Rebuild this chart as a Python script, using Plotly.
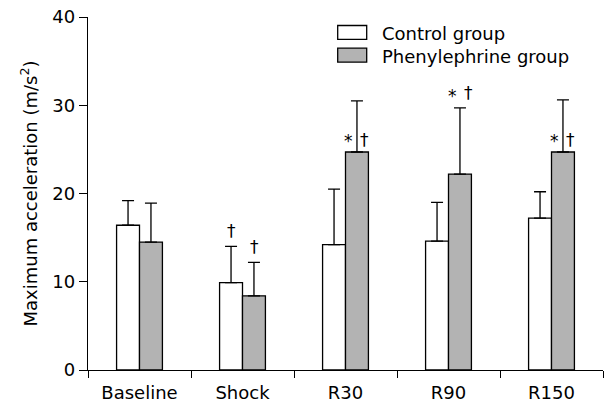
import plotly.graph_objects as go

categories = ["Baseline", "Shock", "R30", "R90", "R150"]
control_mean = [16.4, 9.9, 14.2, 14.6, 17.2]
control_sd = [2.8, 4.1, 6.3, 4.4, 3.0]
phenyl_mean = [14.5, 8.4, 24.7, 22.2, 24.7]
phenyl_sd = [4.4, 3.8, 5.8, 7.5, 5.9]
y_ticks = [0, 10, 20, 30, 40]

# significance marks: (category index, group, text, placement)
marks = [
    (1, "c", "†", "cap"),
    (1, "p", "†", "cap"),
    (2, "p", "*|†", "bar"),
    (3, "p", "* †", "cap"),
    (4, "p", "*|†", "bar"),
]

FONT = "DejaVu Sans, Liberation Sans, Arial, sans-serif"
FS = 18
fig = go.Figure()
fig.add_trace(go.Bar(
    x=categories, y=control_mean, name="Control group",
    marker=dict(color="white", line=dict(color="black", width=1.3)),
    error_y=dict(type="data", symmetric=False, array=control_sd,
                 arrayminus=[0] * 5, color="black", thickness=1.3, width=6),
))
fig.add_trace(go.Bar(
    x=categories, y=phenyl_mean, name="Phenylephrine group",
    marker=dict(color="#b3b3b3", line=dict(color="black", width=1.3)),
    error_y=dict(type="data", symmetric=False, array=phenyl_sd,
                 arrayminus=[0] * 5, color="black", thickness=1.3, width=6),
))

mfont = dict(size=17, family=FONT, color="black")
half = 11.5
for idx, grp, text, place in marks:
    mean = control_mean if grp == "c" else phenyl_mean
    sd = control_sd if grp == "c" else phenyl_sd
    xs = -half if grp == "c" else half
    if place == "cap":
        yv = mean[idx] + sd[idx]
        if text == "* †":
            fig.add_annotation(x=categories[idx], y=yv, text="*", showarrow=False,
                               xshift=xs - 8, yshift=12, font=mfont)
            fig.add_annotation(x=categories[idx], y=yv, text="†", showarrow=False,
                               xshift=xs + 8, yshift=15, font=mfont)
        else:
            fig.add_annotation(x=categories[idx], y=yv, text=text, showarrow=False,
                               xshift=xs, yshift=15, font=mfont)
    else:
        yv = mean[idx]
        fig.add_annotation(x=categories[idx], y=yv, text="*", showarrow=False,
                           xshift=xs - 8.5, yshift=11, font=mfont)
        fig.add_annotation(x=categories[idx], y=yv, text="†", showarrow=False,
                           xshift=xs + 7, yshift=12, font=mfont)

# legend swatches
legend_items = [("Control group", "white"), ("Phenylephrine group", "#b3b3b3")]
for i, (label, col) in enumerate(legend_items):
    y0 = 1 - (25 + i * 22.7 - 16.5) / 353.5
    y1 = 1 - (39 + i * 22.7 - 16.5) / 353.5
    fig.add_shape(type="rect", xref="paper", yref="paper",
                  x0=(337.7 - 88) / 515, x1=(366.7 - 88) / 515, y0=y1, y1=y0,
                  fillcolor=col, line=dict(color="black", width=1.3))
    fig.add_annotation(xref="paper", yref="paper", x=(380 - 88) / 515,
                       y=(y0 + y1) / 2, text=label, showarrow=False,
                       xanchor="left", yanchor="middle", yshift=-1,
                       font=dict(size=FS, family=FONT, color="black"))

fig.update_layout(
    width=604, height=405,
    margin=dict(l=88, r=1, t=16.5, b=35),
    paper_bgcolor="white", plot_bgcolor="white",
    barmode="group", bargap=0.555, bargroupgap=0,
    showlegend=False,
    font=dict(family=FONT, size=FS, color="black"),
)
fig.update_xaxes(
    type="category", tickson="boundaries", ticks="outside", ticklen=7,
    tickwidth=1.3, tickcolor="black", showline=True, linecolor="black",
    linewidth=1.3, showgrid=False, tickfont=dict(size=FS), range=[-0.5, 4.5],
    ticklabelstandoff=6,
)
fig.update_yaxes(
    range=[0, 40], tickvals=y_ticks, ticks="outside", ticklen=8,
    tickwidth=1.3, tickcolor="black", showline=True, linecolor="black",
    linewidth=1.3, showgrid=False, zeroline=False, tickfont=dict(size=FS),
    title=dict(text="Maximum acceleration (m/s<sup>2</sup>)", font=dict(size=FS), standoff=10),
)
fig.write_html("out.html", config={"displayModeBar": False},
               post_script="document.body.style.margin='0';")
